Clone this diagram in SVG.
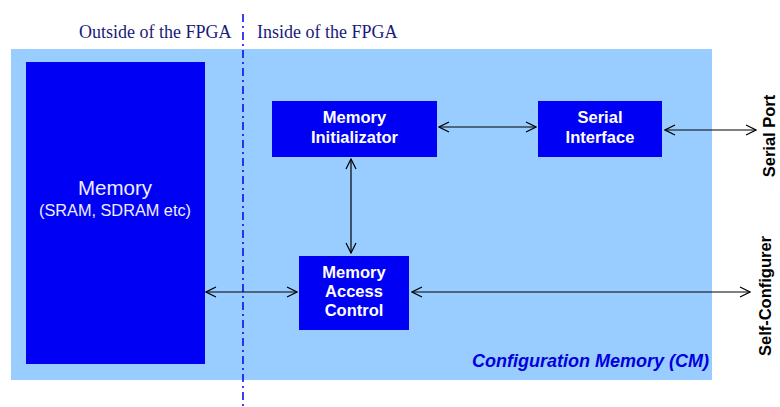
<svg xmlns="http://www.w3.org/2000/svg" width="780" height="407" viewBox="0 0 780 407">
  <defs>
    <marker id="head" viewBox="0 0 12 12" refX="11" refY="6" markerWidth="12" markerHeight="12" markerUnits="userSpaceOnUse" orient="auto-start-reverse">
      <path d="M1,1 L11,6 L1,11" fill="none" stroke="#000" stroke-width="1.2"/>
    </marker>
    <style>
      .block { fill: #0000f5; }
      .blabel { font-family: "Liberation Sans", Arial, sans-serif; font-weight: bold; font-size: 16.5px; fill: #ffffff; text-anchor: middle; }
      .side { font-family: "Liberation Serif", "Times New Roman", serif; font-size: 18px; fill: #1a1a7a; }
      .port { font-family: "Liberation Sans", Arial, sans-serif; font-weight: bold; font-size: 16.5px; fill: #000; text-anchor: middle; }
      .link { stroke: #000; stroke-width: 1.2; fill: none; marker-start: url(#head); marker-end: url(#head); }
    </style>
  </defs>
  <rect width="780" height="407" fill="#ffffff"/>

  <!-- Configuration memory region -->
  <rect x="11" y="49" width="701" height="331" fill="#99ccff"/>
  <text x="709" y="367" text-anchor="end" font-family="Liberation Sans, Arial, sans-serif" font-weight="bold" font-style="italic" font-size="18" fill="#0000dd">Configuration Memory (CM)</text>

  <!-- FPGA boundary -->
  <line x1="243" y1="14" x2="243" y2="407" stroke="#0000ee" stroke-width="1.5" stroke-dasharray="8,4,2,4"/>
  <text class="side" x="79" y="38">Outside of the FPGA</text>
  <text class="side" x="257" y="38">Inside of the FPGA</text>

  <g id="memory">
    <rect class="block" x="26" y="62" width="179" height="302"/>
    <text x="115" y="195" text-anchor="middle" font-family="Liberation Sans, Arial, sans-serif" font-size="20.5" fill="#eeeeff">Memory</text>
    <text x="115" y="216" text-anchor="middle" font-family="Liberation Sans, Arial, sans-serif" font-size="16.3" fill="#eeeeff">(SRAM, SDRAM etc)</text>
  </g>

  <g id="memory-initializator">
    <rect class="block" x="272" y="101" width="165" height="56"/>
    <text class="blabel" x="354.5" y="123">Memory</text>
    <text class="blabel" x="354.5" y="143">Initializator</text>
  </g>

  <g id="serial-interface">
    <rect class="block" x="538" y="101" width="124" height="56"/>
    <text class="blabel" x="600" y="123">Serial</text>
    <text class="blabel" x="600" y="143">Interface</text>
  </g>

  <g id="memory-access-control">
    <rect class="block" x="299" y="256" width="110" height="74"/>
    <text class="blabel" x="354" y="278">Memory</text>
    <text class="blabel" x="354" y="297">Access</text>
    <text class="blabel" x="354" y="316">Control</text>
  </g>

  <g id="serial-port">
    <text class="port" transform="translate(775,136) rotate(-90)">Serial Port</text>
  </g>

  <g id="self-configurer">
    <text class="port" transform="translate(771,296) rotate(-90)">Self-Configurer</text>
  </g>

  <g id="connectors">
    <line class="link" x1="439" y1="127" x2="536" y2="127"/>
    <line class="link" x1="665" y1="130" x2="756" y2="130"/>
    <line class="link" x1="351" y1="159" x2="351" y2="253"/>
    <line class="link" x1="206" y1="292" x2="297" y2="292"/>
    <line class="link" x1="412" y1="292" x2="750" y2="292"/>
  </g>
</svg>
